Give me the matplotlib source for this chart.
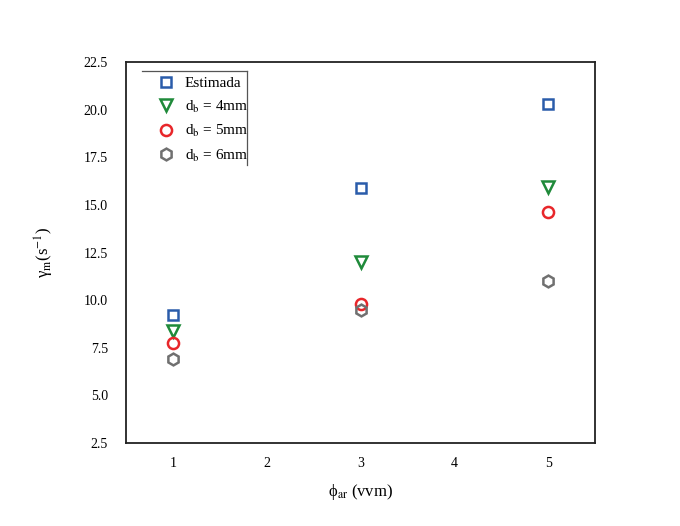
"""Shear rate vs aeration rate scatter."""
import matplotlib.pyplot as plt
from matplotlib.lines import Line2D

plt.rcParams['font.family'] = ['Liberation Serif', 'DejaVu Serif']
plt.rcParams['mathtext.fontset'] = 'stix'

phi_ar = [1, 3, 5]
estimada = [9.22, 15.89, 20.3]
db_4mm = [8.38, 12.0, 15.94]
db_5mm = [7.75, 9.8, 14.63]
db_6mm = [6.9, 9.48, 11.0]

labels = ['Estimada', r'd$_\mathrm{b}$ = 4mm', r'd$_\mathrm{b}$ = 5mm', r'd$_\mathrm{b}$ = 6mm']
series = [estimada, db_4mm, db_5mm, db_6mm]
markers = ['s', 'v', 'o', 'h']
colors = ['#2a5caa', '#1f8a3a', '#e8262a', '#707070']
sizes = [7, 8.5, 8, 8.5]

fig = plt.figure(figsize=(6.8, 5.26), dpi=100)
ax = fig.add_axes([126 / 680, 1 - 443 / 526, (595 - 126) / 680, (443 - 62) / 526])

for vals, m, c, s, lab in zip(series, markers, colors, sizes, labels):
    ax.plot(phi_ar, vals, linestyle='none', marker=m, markersize=s,
            markerfacecolor='none', markeredgecolor=c, markeredgewidth=1.8, label=lab)

ax.set_xlim(0.5, 5.5)
ax.set_ylim(2.5, 22.5)
ax.set_xticks([1, 2, 3, 4, 5])
ax.set_yticks([2.5, 5.0, 7.5, 10.0, 12.5, 15.0, 17.5, 20.0, 22.5])
ax.set_yticklabels([f'{v:.1f}' for v in ax.get_yticks()])
ax.tick_params(axis='both', length=0, labelsize=10)
ax.tick_params(axis='y', pad=13)
ax.tick_params(axis='x', pad=10)
for sp in ax.spines.values():
    sp.set_linewidth(1.3)
    sp.set_color('#222222')

ax.set_xlabel('ϕ$_\\mathrm{ar}$ (vvm)', fontsize=12, labelpad=9)
ax.set_ylabel('γ$_\\mathrm{m}$(s$^{-1}$)', fontsize=12, labelpad=20)

leg = ax.legend(loc='upper left', bbox_to_anchor=(0.046, 0.99), frameon=False,
                fontsize=11, handlelength=1.0, handletextpad=0.75,
                labelspacing=0.55, borderaxespad=0.3)

# partial legend frame: top and right edges only
fig.add_artist(Line2D([142 / 680, 247 / 680], [1 - 71 / 526, 1 - 71 / 526],
                      color='#555555', linewidth=0.9))
fig.add_artist(Line2D([247 / 680, 247 / 680], [1 - 71 / 526, 1 - 165 / 526],
                      color='#555555', linewidth=0.9))

fig.savefig('out.png', dpi=100)
